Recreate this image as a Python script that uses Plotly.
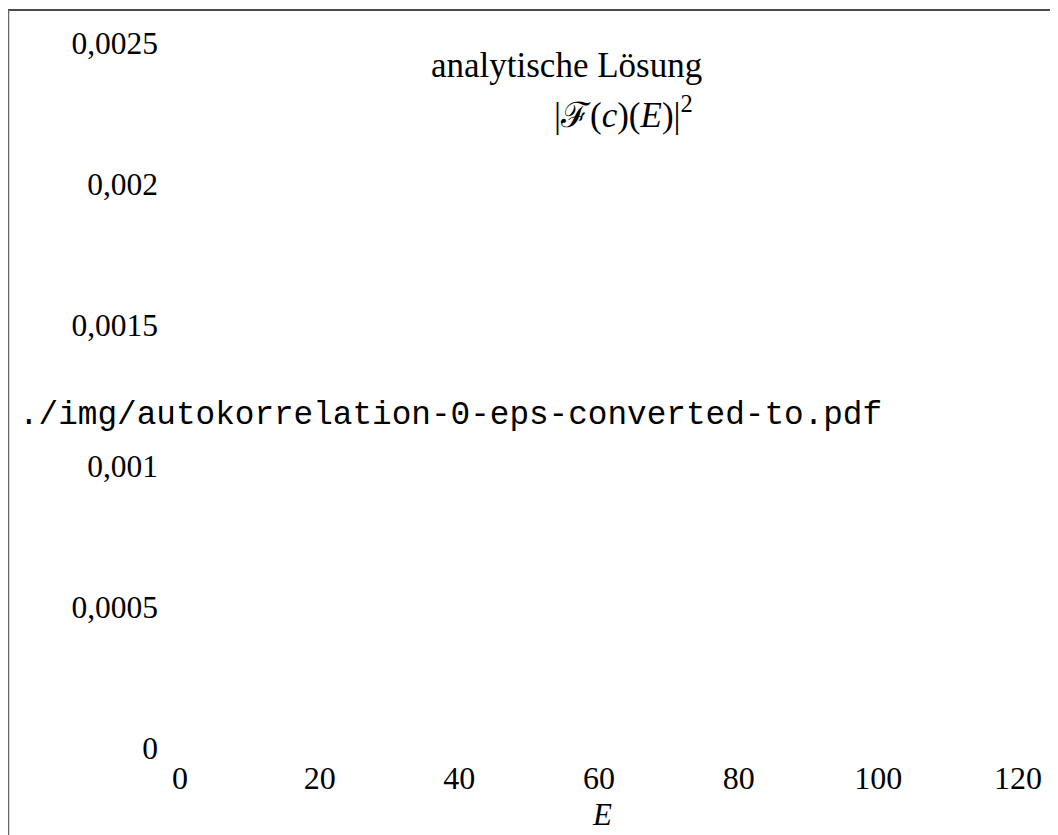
import plotly.graph_objects as go

# Data (tick values / labels)
x_tick_vals = [0, 20, 40, 60, 80, 100, 120]
x_tick_text = ["0", "20", "40", "60", "80", "100", "120"]
y_tick_vals = [0, 0.0005, 0.001, 0.0015, 0.002, 0.0025]
y_tick_text = ["0", "0,0005", "0,001", "0,0015", "0,002", "0,0025"]
series_x = []   # the plotted image is missing in the reference -> no visible marks
series_y = []

legend_label_1 = "analytische Lösung"
legend_label_2 = "|ℱ(<i>c</i>)(<i>E</i>)|<sup>2</sup>"
missing_file = "./img/autokorrelation-0-eps-converted-to.pdf"

OFF = 8                      # page body margin in the browser
W, H = 1058 - OFF, 835 - OFF
# plot area in reference (window) pixels
PL, PR, PT, PB = 165, 1040, 10, 754
L, R, T, B = PL - OFF, W - (PR - OFF), PT - OFF, H - (PB - OFF)
pw, ph = W - L - R, H - T - B

def px_x(p):
    return (p - OFF - L) / pw

def px_y(p):
    return (H - B - (p - OFF)) / ph

serif = "Liberation Serif"

fig = go.Figure()
fig.add_trace(go.Scatter(x=series_x, y=series_y, mode="lines",
                         line=dict(color="black"), showlegend=False))

fig.update_layout(
    width=W, height=H,
    margin=dict(l=L, r=R, t=T, b=B, pad=0),
    paper_bgcolor="white", plot_bgcolor="white",
    showlegend=False,
    xaxis=dict(range=[-2.148, 123.15], tickvals=x_tick_vals, ticktext=x_tick_text,
               showgrid=False, zeroline=False, showline=False, ticks="",
               tickfont=dict(family=serif, size=32, color="black"),
               ticklabelstandoff=2,
               title=dict(text="<i>E</i>", font=dict(family=serif, size=31, color="black"),
                          standoff=8)),
    yaxis=dict(range=[-0.0000213, 0.002617], tickvals=y_tick_vals, ticktext=y_tick_text,
               showgrid=False, zeroline=False, showline=False, ticks="",
               tickfont=dict(family=serif, size=31.5, color="black"),
               ticklabelstandoff=6),
)

# frame of the (clipped) page box
fig.add_shape(type="line", xref="paper", yref="paper",
              x0=px_x(8), x1=px_x(1070), y0=px_y(10), y1=px_y(10),
              line=dict(color="#111111", width=1.5))
fig.add_shape(type="line", xref="paper", yref="paper",
              x0=px_x(8.5), x1=px_x(8.5), y0=px_y(10), y1=px_y(850),
              line=dict(color="#666666", width=1.5))

fig.add_annotation(text=legend_label_1, xref="paper", yref="paper",
                   x=px_x(704), y=px_y(65), xanchor="right", yanchor="middle",
                   showarrow=False, font=dict(family=serif, size=35, color="black"))
fig.add_annotation(text=legend_label_2, xref="paper", yref="paper",
                   x=px_x(695), y=px_y(113), xanchor="right", yanchor="middle",
                   showarrow=False, font=dict(family=serif, size=35, color="black"))
fig.add_annotation(text=missing_file, xref="paper", yref="paper",
                   x=px_x(17), y=px_y(415), xanchor="left", yanchor="middle",
                   showarrow=False, font=dict(family="Liberation Mono", size=32.7, color="black"))

fig.write_html("out.html")
